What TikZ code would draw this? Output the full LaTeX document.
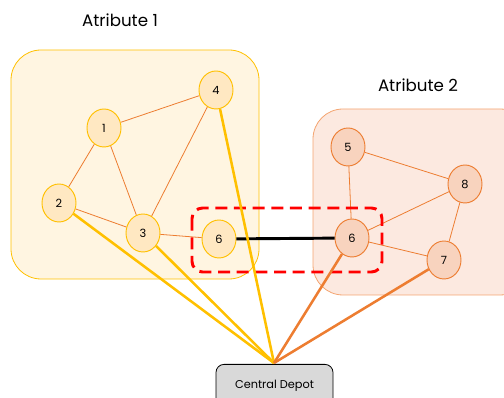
\documentclass[tikz,border=0pt]{standalone}
\usepackage{fontspec}
\setmainfont{Poppins}
\usetikzlibrary{shapes.geometric}
\definecolor{yelline}{HTML}{FFC000}
\definecolor{yelfill}{HTML}{FFF5E1}
\definecolor{yelnode}{HTML}{FFE8C2}
\definecolor{orline}{HTML}{ED7D31}
\definecolor{orbox}{HTML}{F4A470}
\definecolor{orfill}{HTML}{FCE9E0}
\definecolor{ornode}{HTML}{F8D3BE}
\definecolor{depotfill}{HTML}{D9D9D9}
\tikzset{
  ynode/.style={ellipse,draw=yelline,fill=yelnode,line width=0.7pt,minimum width=25.5pt,minimum height=28.5pt,inner sep=0pt,font=\fontsize{8.5}{10}\selectfont},
  onode/.style={ellipse,draw=orline,fill=ornode,line width=0.7pt,minimum width=25.5pt,minimum height=28.5pt,inner sep=0pt,font=\fontsize{8.5}{10}\selectfont},
  link/.style={draw=orline,line width=0.6pt},
  ytrip/.style={draw=yelline,line width=1.9pt},
  otrip/.style={draw=orline,line width=1.9pt},
  title/.style={font=\fontsize{12.5}{14}\selectfont},
}
\begin{document}
\begin{tikzpicture}[x=0.75pt,y=-0.75pt]
\useasboundingbox (0,0) rectangle (504,398);
% attribute areas
\draw[draw=yelline,fill=yelfill,line width=0.6pt,rounded corners=22.5pt] (11,50) rectangle (259,279);
\draw[draw=orbox,fill=orfill,line width=0.6pt,rounded corners=22.5pt] (313,109) rectangle (530,295);
\node[title] (t1) at (120,20) {Atribute 1};
\node[title] (t2) at (418,85) {Atribute 2};
% customers
\node[ynode] (n1) at (104,128) {1};
\node[ynode] (n4) at (216,90) {4};
\node[ynode] (n2) at (59,203) {2};
\node[ynode] (n3) at (143,233) {3};
\node[ynode] (n6a) at (219,239) {6};
\node[onode] (n5) at (348,147) {5};
\node[onode] (n8) at (465,184) {8};
\node[onode] (n6b) at (352,238) {6};
\node[onode] (n7) at (444,260) {7};
% depot
\node[draw=black,fill=depotfill,line width=0.6pt,rounded corners=6pt,minimum width=87.75pt,minimum height=45pt,anchor=north,inner sep=0pt] (depot) at (274.5,364) {};
\node[font=\fontsize{8.5}{10}\selectfont] (dlabel) at (274.5,386) {Central Depot};
\coordinate (hub) at (274,363);
% edges inside the attributes
\draw[link] (n1) -- (n4);
\draw[link] (n1) -- (n2);
\draw[link] (n1) -- (n3);
\draw[link] (n4) -- (n3);
\draw[link] (n2) -- (n3);
\draw[link] (n3) -- (n6a);
\draw[link] (n5) -- (n8);
\draw[link] (n5) -- (n6b);
\draw[link] (n8) -- (n6b);
\draw[link] (n8) -- (n7);
\draw[link] (n6b) -- (n7);
% shared customer
\draw[black,line width=2.2pt] (n6a) -- (n6b);
\draw[red,line width=2.2pt,dash pattern=on 9pt off 5pt,rounded corners=8pt] (192,208) rectangle (382,272);
% trips to the depot
\draw[ytrip] (n2) -- (hub);
\draw[ytrip] (n3) -- (hub);
\draw[ytrip] (n4) -- (hub);
\draw[otrip] (n6b) -- (hub);
\draw[otrip] (n7) -- (hub);
\end{tikzpicture}
\end{document}
